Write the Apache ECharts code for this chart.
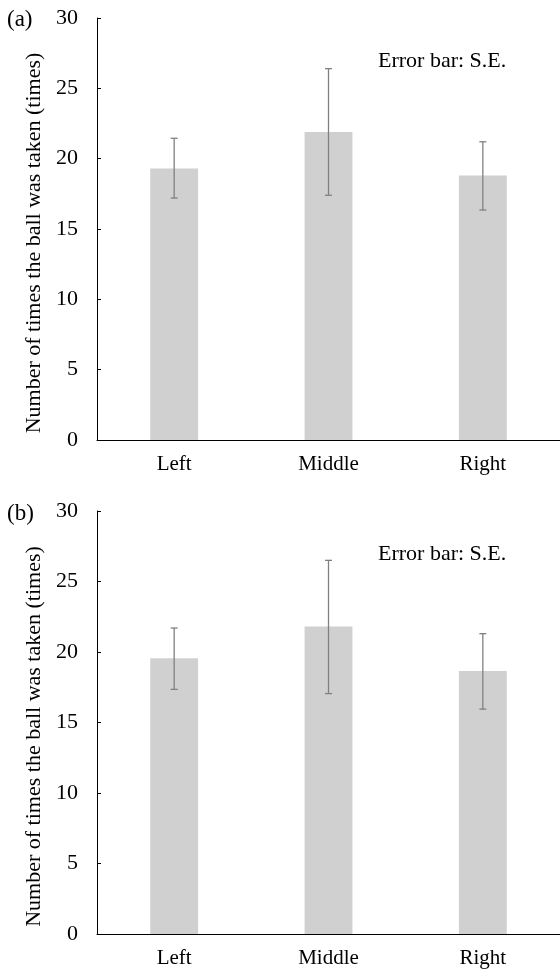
<!DOCTYPE html>
<html>
<head>
<meta charset="utf-8">
<script src="https://cdn.jsdelivr.net/npm/echarts@6/dist/echarts.min.js"></script>
<style>
html,body{margin:0;padding:0;background:#fff;}
#chart{width:560px;height:971px;}
</style>
</head>
<body>
<div id="chart"></div>
<script>
var categories = ['Left', 'Middle', 'Right'];
var yTicks = [0, 5, 10, 15, 20, 25, 30];
var meansA = [19.3, 21.9, 18.8];
var errHighA = [21.45, 26.4, 21.2];
var errLowA = [17.2, 17.4, 16.35];
var meansB = [19.55, 21.8, 18.65];
var errHighB = [21.7, 26.5, 21.3];
var errLowB = [17.35, 17.05, 15.95];
var panelLabels = ['(a)', '(b)'];
var noteText = 'Error bar: S.E.';
var yName = 'Number of times the ball was taken (times)';

var FONT = '"Liberation Serif", "Times New Roman", serif';
var chart = echarts.init(document.getElementById('chart'));

function errData(lo, hi) {
  return categories.map(function (c, i) { return [i, lo[i], hi[i]]; });
}
function renderErr(params, api) {
  var x = api.value(0);
  var lo = api.coord([x, api.value(1)]);
  var hi = api.coord([x, api.value(2)]);
  var cap = 3.5;
  var st = { stroke: '#808080', lineWidth: 1.3 };
  return {
    type: 'group',
    children: [
      { type: 'line', shape: { x1: lo[0], y1: lo[1], x2: hi[0], y2: hi[1] }, style: st },
      { type: 'line', shape: { x1: hi[0] - cap, y1: hi[1], x2: hi[0] + cap, y2: hi[1] }, style: st },
      { type: 'line', shape: { x1: lo[0] - cap, y1: lo[1], x2: lo[0] + cap, y2: lo[1] }, style: st }
    ]
  };
}
function xAx(idx) {
  return {
    type: 'category', gridIndex: idx, data: categories,
    axisLine: { lineStyle: { color: '#000', width: 1 } },
    axisTick: { show: false },
    axisLabel: { color: '#000', fontFamily: FONT, fontSize: 21, margin: 14 }
  };
}
function yAx(idx) {
  return {
    type: 'value', gridIndex: idx, min: yTicks[0], max: yTicks[yTicks.length - 1], interval: 5,
    name: yName, nameLocation: 'middle', nameGap: 48,
    nameTextStyle: { color: '#000', fontFamily: FONT, fontSize: 22, padding: [0, 28, 0, 0] },
    axisLine: { show: true, lineStyle: { color: '#000', width: 1 } },
    axisTick: { show: true, inside: true, length: 4, lineStyle: { color: '#000' } },
    splitLine: { show: false },
    axisLabel: { color: '#000', fontFamily: FONT, fontSize: 22, margin: 19 }
  };
}
var titleStyle = { color: '#000', fontFamily: FONT, fontSize: 23, fontWeight: 'normal' };
var noteStyle = { color: '#000', fontFamily: FONT, fontSize: 22, fontWeight: 'normal' };

chart.setOption({
  animation: false,
  backgroundColor: '#fff',
  title: [
    { text: panelLabels[0], left: 7, top: 8, padding: 0, textStyle: titleStyle },
    { text: noteText, left: 378, top: 50, padding: 0, textStyle: noteStyle },
    { text: panelLabels[1], left: 7, top: 502, padding: 0, textStyle: titleStyle },
    { text: noteText, left: 378, top: 543, padding: 0, textStyle: noteStyle }
  ],
  grid: [
    { left: 97, top: 18, width: 468, height: 422 },
    { left: 97, top: 511, width: 468, height: 423 }
  ],
  xAxis: [xAx(0), xAx(1)],
  yAxis: [yAx(0), yAx(1)],
  series: [
    { type: 'bar', xAxisIndex: 0, yAxisIndex: 0, data: meansA, barWidth: '31%', itemStyle: { color: '#d0d0d0' } },
    { type: 'custom', xAxisIndex: 0, yAxisIndex: 0, data: errData(errLowA, errHighA), renderItem: renderErr, z: 5 },
    { type: 'bar', xAxisIndex: 1, yAxisIndex: 1, data: meansB, barWidth: '31%', itemStyle: { color: '#d0d0d0' } },
    { type: 'custom', xAxisIndex: 1, yAxisIndex: 1, data: errData(errLowB, errHighB), renderItem: renderErr, z: 5 }
  ]
});
</script>
</body>
</html>
